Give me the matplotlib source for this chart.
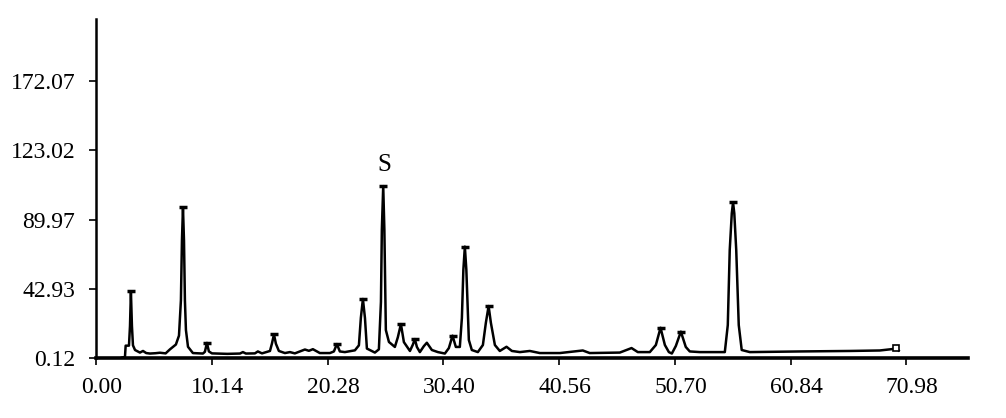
import numpy as np
import matplotlib
matplotlib.use("Agg")
from matplotlib import pyplot as plt
from matplotlib import transforms

# chromatogram trace (time in min, response)
trace_t = [2.28, 2.54, 2.60, 2.71, 2.89, 2.98, 3.06, 3.15, 3.24, 3.42, 3.85, 4.12, 4.40, 4.73, 5.20, 5.60, 6.10,
           6.48, 7.00, 7.27, 7.44, 7.53, 7.62, 7.71, 7.79, 7.88, 8.06, 8.49, 9.37, 9.54, 9.72, 9.89, 10.16,
           11.50, 12.61, 12.87, 13.13, 13.92, 14.18, 14.54, 15.24, 15.41, 15.59, 15.76, 16.02, 16.55, 16.99,
           17.42, 18.30, 18.65, 19.00, 19.61, 20.49, 20.84, 21.10, 21.36, 21.80, 22.68, 23.03, 23.20, 23.38,
           23.56, 23.73, 24.43, 24.78, 24.96, 25.04, 25.16, 25.26, 25.39, 25.66, 26.18, 26.44, 26.71, 26.97,
           27.50, 27.76, 27.93, 28.11, 28.37, 28.72, 28.98, 29.42, 29.95, 30.56, 30.91, 31.23, 31.52, 31.87,
           32.05, 32.18, 32.31, 32.44, 32.66, 32.92, 33.45, 33.89, 34.15, 34.39, 34.59, 34.94, 35.37, 35.96,
           36.43, 37.13, 38.00, 38.88, 40.63, 42.64, 43.25, 45.88, 46.91, 47.46, 48.51, 49.04, 49.45, 49.83,
           50.18, 50.44, 50.79, 51.23, 51.66, 52.01, 52.89, 55.08, 55.34, 55.51, 55.69, 55.80, 55.91, 56.08,
           56.30, 56.56, 57.27, 61.64, 66.02, 68.65, 69.79, 70.05, 70.31]
trace_v = [0.4, 0.8, 7.8, 7.8, 7.8, 20.0, 41.6, 20.0, 8.0, 5.1, 3.5, 4.5, 3.2, 2.9, 3.1, 3.4, 3.0,
           5.5, 8.5, 14.0, 36.0, 73.0, 93.7, 73.0, 36.0, 17.5, 7.1, 3.2, 2.9, 4.0, 9.5, 4.2, 3.0,
           2.7, 2.9, 3.8, 2.9, 3.0, 4.2, 3.0, 4.5, 9.0, 14.8, 9.0, 4.5, 3.2, 3.8,
           3.0, 5.4, 4.6, 5.6, 3.2, 3.2, 4.2, 8.8, 4.2, 3.8, 4.9, 8.0, 25.0, 36.8,
           25.0, 6.0, 3.5, 5.5, 35.0, 80.0, 106.9, 80.0, 17.5, 10.1, 7.0, 13.0, 21.2, 10.0,
           4.5, 8.5, 11.9, 7.0, 3.8, 7.5, 9.6, 5.1, 3.8, 2.9, 6.3, 14.0, 7.0, 7.0,
           25.0, 55.0, 69.3, 55.0, 11.3, 5.1, 3.8, 8.2, 22.0, 32.4, 22.0, 8.2, 4.5, 7.1,
           4.5, 3.8, 4.5, 3.2, 3.2, 4.8, 3.2, 3.5, 6.3, 3.8, 3.8, 8.2, 18.9, 8.2,
           3.8, 2.9, 7.6, 16.5, 7.0, 4.2, 3.8, 3.8, 20.6, 67.2, 90.0, 96.8, 90.0, 67.2,
           20.6, 5.1, 3.8, 4.2, 4.5, 4.8, 5.7, 6.3, 4.8]

# labelled peak apexes
peak_t = [3.06, 7.62, 9.72, 15.59, 21.10, 23.38, 25.16, 26.71, 27.93, 31.23, 32.31, 34.39, 49.45, 51.23, 55.80]
peak_v = [41.6, 93.7, 9.5, 14.8, 8.8, 36.8, 106.9, 21.2, 11.9, 14.0, 69.3, 32.4, 18.9, 16.5, 96.8]

xtick_vals = [0.00, 10.14, 20.28, 30.42, 40.56, 50.70, 60.84, 70.98]
xtick_labels = ["0.00", "10.14", "20.28", "30.40", "40.56", "50.70", "60.84", "70.98"]
ytick_vals = list(np.linspace(0.12, 172.07, 5))
ytick_labels = ["0.12", "42.93", "89.97", "123.02", "172.07"]

plt.rcParams['font.family'] = ['Liberation Serif', 'DejaVu Serif']

fig = plt.figure(figsize=(10.06, 4.18), dpi=100)
ax = fig.add_axes([0.0954, 0.1435, 0.8666, 0.811])

ax.plot(trace_t, trace_v, color="black", lw=1.8)
ax.plot(peak_t, peak_v, ls="none", marker="_", ms=6, mew=2.5, color="black")
ax.plot([70.05], [6.3], ls="none", marker="s", ms=5, mfc="white", mec="black", mew=1.2)
ax.text(25.22, 120.2, "S", fontsize=18, ha="center", va="center")

ax.set_xlim(0, 76.36)
ax.set_ylim(0.12, 210.7)
ax.set_xticks(xtick_vals)
ax.set_xticklabels(xtick_labels)
ax.set_yticks(ytick_vals)
ax.set_yticklabels(ytick_labels)
ax.tick_params(axis="both", labelsize=17, length=5, width=1.2, direction="out")
ax.tick_params(axis="x", pad=9)
ax.tick_params(axis="y", pad=10)

# labels in the original sit a little right of their ticks
shift = transforms.ScaledTranslation(0.06, 0, fig.dpi_scale_trans)
for lbl in ax.get_xticklabels():
    lbl.set_transform(lbl.get_transform() + shift)

ax.spines["top"].set_visible(False)
ax.spines["right"].set_visible(False)
ax.spines["left"].set_linewidth(1.8)
ax.spines["bottom"].set_linewidth(2.6)

fig.savefig("out.png", dpi=100)
